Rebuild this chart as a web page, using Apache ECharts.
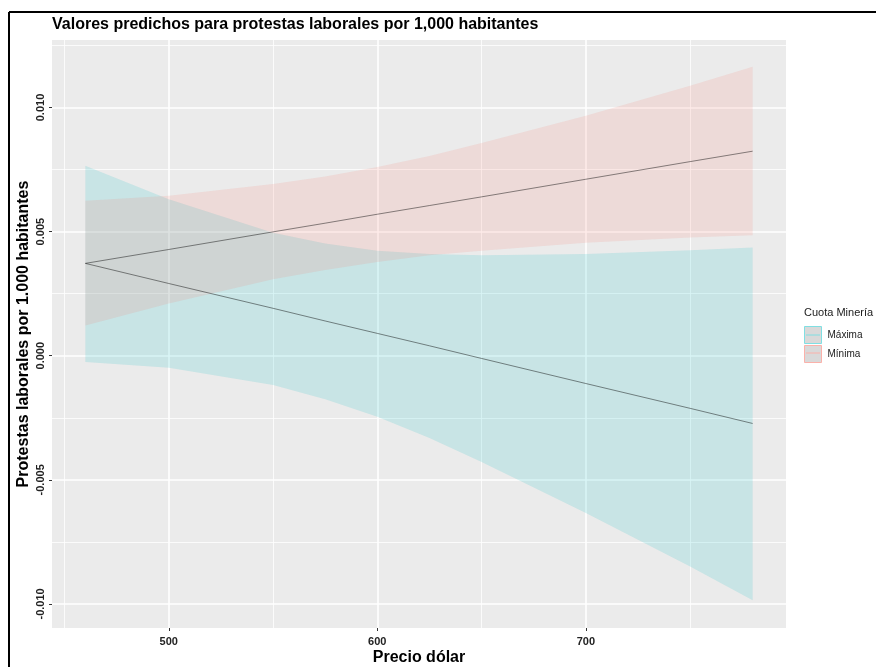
<!DOCTYPE html>
<html><head><meta charset="utf-8">
<script src="https://cdn.jsdelivr.net/npm/echarts@6/dist/echarts.min.js"></script>
<style>html,body{margin:0;padding:0;background:#fff}#c{width:876px;height:667px}</style>
</head><body><div id="c"></div>
<script>
const precio = [460, 500, 550, 575, 600, 625, 650, 700, 750, 780];
const maximaFit   = [0.00372, 0.00291, 0.00191, 0.00140, 0.00090, 0.00040, -0.00011, -0.00112, -0.00212, -0.00273];
const maximaUpper = [0.00765, 0.00630, 0.00495, 0.00452, 0.00423, 0.00410, 0.00405, 0.00410, 0.00425, 0.00436];
const maximaLower = [-0.00025, -0.00048, -0.00118, -0.00175, -0.00246, -0.00332, -0.00428, -0.00634, -0.00849, -0.00985];
const minimaFit   = [0.00372, 0.00428, 0.00499, 0.00534, 0.00570, 0.00605, 0.00640, 0.00711, 0.00782, 0.00824];
const minimaUpper = [0.00624, 0.00645, 0.00692, 0.00722, 0.00760, 0.00805, 0.00857, 0.00967, 0.01088, 0.01164];
const minimaLower = [0.00122, 0.00210, 0.00308, 0.00345, 0.00378, 0.00405, 0.00423, 0.00455, 0.00476, 0.00485];
const groups = ['Máxima', 'Mínima'];
const xMajor = [500, 600, 700];
const xMinor = [450, 550, 650, 750];
const yMajor = [-0.01, -0.005, 0, 0.005, 0.01];
const yMinor = [-0.0075, -0.0025, 0.0025, 0.0075, 0.0125];

const FONT = 'Liberation Sans, Arial, sans-serif';
const chart = echarts.init(document.getElementById('c'), null, {renderer: 'canvas'});

function rows(lo, up) { return precio.map((x, i) => [x, lo[i], up[i]]); }
function pairs(v) { return precio.map((x, i) => [x, v[i]]); }
function ribbon(name, lo, up, fill) {
  return {
    type: 'custom', name: name, xAxisIndex: 0, yAxisIndex: 0, silent: true,
    data: rows(lo, up), encode: {x: 0, y: [1, 2]},
    itemStyle: {color: fill},
    renderItem: function (params, api) {
      if (params.dataIndex !== 0) return null;
      const pts = [];
      for (let i = 0; i < precio.length; i++) pts.push(api.coord([precio[i], up[i]]));
      for (let i = precio.length - 1; i >= 0; i--) pts.push(api.coord([precio[i], lo[i]]));
      return {type: 'polygon', shape: {points: pts}, style: {fill: fill}};
    }
  };
}
function fitLine(name, v) {
  return {
    type: 'line', name: name, xAxisIndex: 0, yAxisIndex: 0, data: pairs(v),
    symbol: 'none', silent: true, z: 5,
    lineStyle: {color: 'rgba(0,0,0,0.45)', width: 1}
  };
}

const option = {
  animation: false,
  backgroundColor: '#ffffff',
  title: [
    {text: 'Valores predichos para protestas laborales por 1,000 habitantes', left: 52, top: 17, padding: 0,
     textStyle: {fontFamily: FONT, fontSize: 16, fontWeight: 'bold', color: '#000'}},
    {text: 'Cuota Minería', left: 804, top: 307, padding: 0,
     textStyle: {fontFamily: FONT, fontSize: 11, fontWeight: 'normal', color: '#1a1a1a'}}
  ],
  legend: {
    data: [
      {name: groups[0], itemStyle: {color: '#d9d9d9', borderColor: '#80dfe2', borderWidth: 1}},
      {name: groups[1], itemStyle: {color: '#d9d9d9', borderColor: '#fbb1aa', borderWidth: 1}}
    ],
    orient: 'vertical', left: 804, top: 326, icon: 'rect', itemWidth: 17, itemHeight: 17,
    itemGap: 1, padding: 0, selectedMode: false,
    textStyle: {fontFamily: FONT, fontSize: 10, color: '#1a1a1a', padding: [0, 0, 0, 1]}
  },
  grid: {left: 52, top: 40, right: 90, bottom: 39, show: true, backgroundColor: '#EBEBEB', borderWidth: 0,
         containLabel: false, outerBoundsMode: 'none'},
  xAxis: [
    {type: 'value', min: 444, max: 796, name: 'Precio dólar', nameLocation: 'middle', nameGap: 22, nameMoveOverlap: false,
     nameTextStyle: {fontFamily: FONT, fontSize: 16, fontWeight: 'bold', color: '#000'},
     axisLine: {show: false, onZero: false},
     axisTick: {show: true, customValues: xMajor, length: 3, lineStyle: {color: '#333'}},
     axisLabel: {customValues: xMajor, fontFamily: FONT, fontSize: 11, fontWeight: 'bold', color: '#222', margin: 8},
     splitLine: {show: true, lineStyle: {color: '#ffffff', width: 1.6}}, z: 1},
    {type: 'value', min: 444, max: 796, position: 'bottom',
     axisLine: {show: false, onZero: false}, axisTick: {show: false, customValues: xMinor},
     axisLabel: {show: false, customValues: xMinor},
     splitLine: {show: true, lineStyle: {color: '#ffffff', width: 0.8}}, z: 0}
  ],
  yAxis: [
    {type: 'value', min: -0.01097, max: 0.01272, name: 'Protestas laborales por 1.000 habitantes',
     nameLocation: 'middle', nameGap: 20, nameMoveOverlap: false,
     nameTextStyle: {fontFamily: FONT, fontSize: 16, fontWeight: 'bold', color: '#000'},
     axisLine: {show: false, onZero: false},
     axisTick: {show: true, customValues: yMajor, length: 3, lineStyle: {color: '#333'}},
     axisLabel: {customValues: yMajor, rotate: 90, fontFamily: FONT, fontSize: 11, fontWeight: 'bold', color: '#222', margin: 6,
                 formatter: v => v.toFixed(3)},
     splitLine: {show: true, lineStyle: {color: '#ffffff', width: 1.6}}, z: 1},
    {type: 'value', min: -0.01097, max: 0.01272, position: 'left',
     axisLine: {show: false, onZero: false}, axisTick: {show: false, customValues: yMinor},
     axisLabel: {show: false, customValues: yMinor},
     splitLine: {show: true, lineStyle: {color: '#ffffff', width: 0.8}}, z: 0}
  ],
  series: [
    ribbon(groups[0], maximaLower, maximaUpper, 'rgba(0,191,196,0.15)'),
    ribbon(groups[1], minimaLower, minimaUpper, 'rgba(248,118,109,0.15)'),
    fitLine('Ajuste Máxima', maximaFit),
    fitLine('Ajuste Mínima', minimaFit)
  ],
  graphic: [
    {type: 'line', shape: {x1: 9, y1: 12, x2: 876, y2: 12}, style: {stroke: '#000', lineWidth: 2}, silent: true},
    {type: 'line', shape: {x1: 9, y1: 12, x2: 9, y2: 667}, style: {stroke: '#000', lineWidth: 2}, silent: true},
    {type: 'line', shape: {x1: 806, y1: 335, x2: 820, y2: 335}, style: {stroke: '#80dfe2', lineWidth: 1}, silent: true, z: 100},
    {type: 'line', shape: {x1: 806, y1: 353, x2: 820, y2: 353}, style: {stroke: '#fbb1aa', lineWidth: 1}, silent: true, z: 100}
  ]
};
chart.setOption(option);
</script>
</body></html>
